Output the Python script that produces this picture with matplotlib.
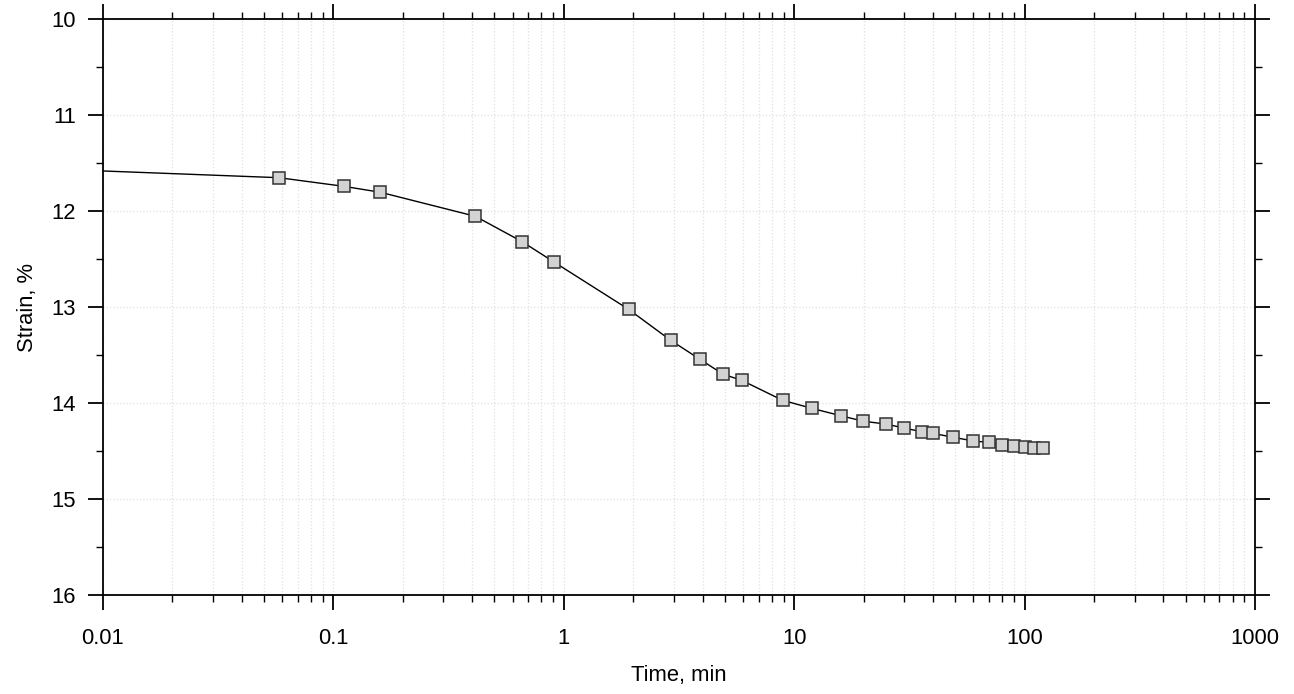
import numpy as np
import matplotlib
matplotlib.use('Agg')
import matplotlib.pyplot as plt
from matplotlib.ticker import LogLocator, MultipleLocator, FuncFormatter

plt.rcParams['font.family'] = ['Liberation Sans', 'DejaVu Sans']

# Dados (tempo em min, deformação em %)
time_min = [0.058, 0.111, 0.16, 0.413, 0.66, 0.91, 1.91, 2.91, 3.9, 4.91, 5.92,
            8.91, 11.9, 15.9, 19.95, 24.96, 29.9, 35.9, 39.9, 49.0, 60.0, 70.0,
            80.0, 90.0, 100.0, 110.0, 120.0]
strain = [11.653, 11.743, 11.805, 12.055, 12.32, 12.534, 13.024, 13.347, 13.545,
          13.70, 13.764, 13.972, 14.055, 14.132, 14.19, 14.219, 14.26, 14.30,
          14.316, 14.357, 14.396, 14.41, 14.44, 14.45, 14.46, 14.47, 14.47]

# início da linha na borda esquerda do eixo
t_start = 0.01
s_start = 11.583

fig = plt.figure(figsize=(12.94, 6.94), dpi=100)
ax = fig.add_axes([103/1294, 1 - 595/694, (1255 - 103)/1294, (595 - 19)/694])

ax.plot([t_start] + time_min, [s_start] + strain, color='black', lw=1.0, zorder=3)
ax.plot(time_min, strain, ls='none', marker='s', markersize=8.2,
        markerfacecolor='#d3d3d3', markeredgecolor='#333333', markeredgewidth=1.1,
        zorder=4)

ax.set_xscale('log')
ax.set_xlim(0.01, 1000)
ax.set_ylim(16, 10)

ax.xaxis.set_major_locator(LogLocator(base=10, numticks=10))
ax.xaxis.set_minor_locator(LogLocator(base=10, subs=np.arange(2, 10), numticks=50))
ax.xaxis.set_major_formatter(FuncFormatter(lambda v, p: '%g' % v))
ax.yaxis.set_major_locator(MultipleLocator(1))
ax.yaxis.set_minor_locator(MultipleLocator(0.5))

ax.grid(True, which='major', axis='both', color='#e0e0e0', ls=':', lw=0.9)
ax.grid(True, which='minor', axis='x', color='#e0e0e0', ls=':', lw=0.9)

ax.tick_params(which='both', direction='out', top=True, right=True,
               labeltop=False, labelright=False, labelsize=15.8, colors='black')
ax.tick_params(which='major', length=10.8, width=1.3)
ax.tick_params(which='minor', length=5.2, width=1.0)
ax.tick_params(axis='x', which='major', pad=12.8)
ax.tick_params(axis='y', which='major', pad=8.6)

for s in ax.spines.values():
    s.set_linewidth(1.3)

ax.set_xlabel('Time, min', fontsize=15.8, labelpad=12)
ax.set_ylabel('Strain, %', fontsize=15.8, labelpad=9.5)

fig.savefig('out.png', dpi=100)
